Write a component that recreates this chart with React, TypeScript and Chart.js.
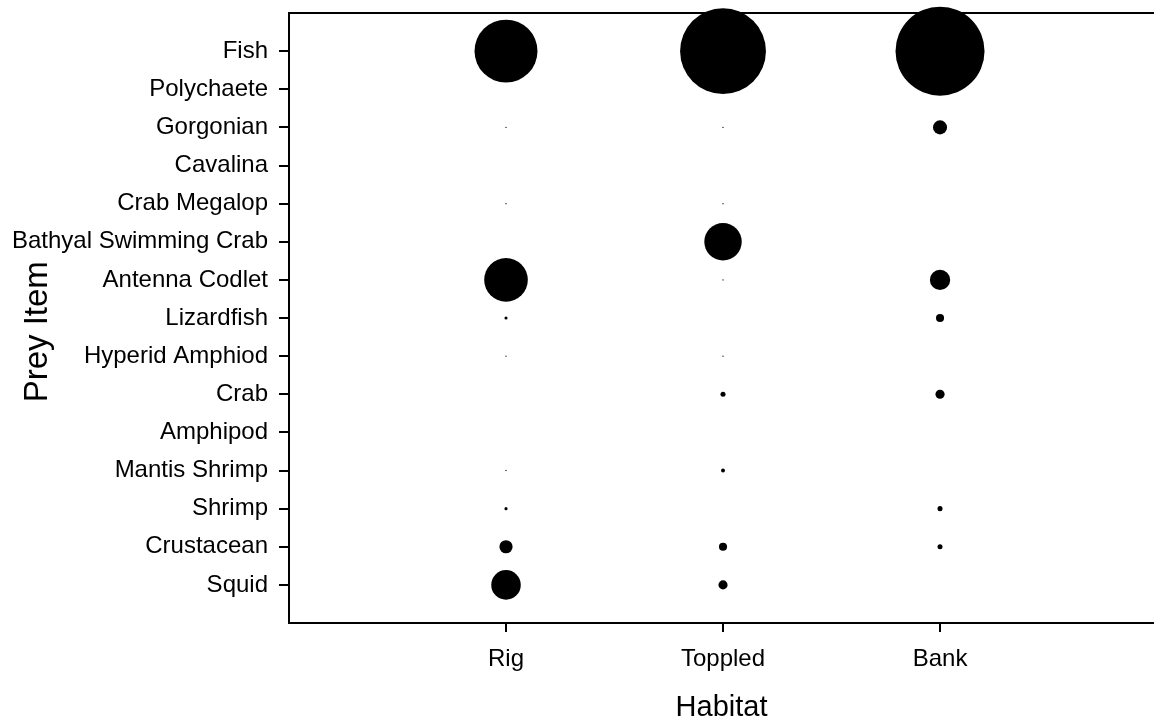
import React, { useEffect, useRef } from "react";
import { Chart, registerables, BubbleController } from "chart.js";

// Bubble controller that does not reserve extra layout padding for large bubbles
class FreeBubbleController extends (BubbleController as any) {
  getMaxOverflow() {
    return false;
  }
}
(FreeBubbleController as any).id = "freeBubble";
(FreeBubbleController as any).defaults = (BubbleController as any).defaults;
(FreeBubbleController as any).overrides = (BubbleController as any).overrides;

Chart.register(...registerables, FreeBubbleController as any);

// Prey items listed from top to bottom of the chart
const preyItems = [
  "Fish",
  "Polychaete",
  "Gorgonian",
  "Cavalina",
  "Crab Megalop",
  "Bathyal Swimming Crab",
  "Antenna Codlet",
  "Lizardfish",
  "Hyperid Amphiod",
  "Crab",
  "Amphipod",
  "Mantis Shrimp",
  "Shrimp",
  "Crustacean",
  "Squid",
];

const habitats = ["Rig", "Toppled", "Bank"];

// Relative importance values (bubble area), one per prey item, top to bottom
const rigValues = [50, 0, 0.02, 0, 0.02, 0, 24, 0.12, 0.02, 0, 0, 0.02, 0.12, 2.2, 11];
const toppledValues = [93, 0, 0.02, 0, 0.02, 17.7, 0.02, 0, 0.02, 0.32, 0, 0.2, 0, 0.83, 1.05];
const bankValues = [100, 0, 2.5, 0, 0, 0, 5.2, 0.83, 0, 1.05, 0, 0, 0.32, 0.32, 0];

const habitatValues = [rigValues, toppledValues, bankValues];

const RADIUS_SCALE = 4.45;

const topBorder = {
  id: "topBorder",
  afterDraw(chart: any) {
    const { ctx, chartArea } = chart;
    ctx.save();
    ctx.strokeStyle = "#000";
    ctx.lineWidth = 2;
    ctx.beginPath();
    ctx.moveTo(chartArea.left - 1, chartArea.top);
    ctx.lineTo(chartArea.right, chartArea.top);
    ctx.stroke();
    ctx.restore();
  },
};

export default function App() {
  const canvasRef = useRef<HTMLCanvasElement | null>(null);

  useEffect(() => {
    const canvas = canvasRef.current;
    if (!canvas) return;
    const n = preyItems.length;
    const points: any[] = [];
    habitatValues.forEach((vals, h) => {
      vals.forEach((v, i) => {
        if (v > 0) {
          points.push({ x: h + 1, y: n - i, r: RADIUS_SCALE * Math.sqrt(v) });
        }
      });
    });

    const family = "'Liberation Sans', Arial, sans-serif";
    const tickFont = { family, size: 24 };

    const chart = new Chart(canvas, {
      type: "freeBubble",
      data: {
        datasets: [
          {
            data: points,
            backgroundColor: "#000",
            borderColor: "#000",
            borderWidth: 0,
            clip: false,
          },
        ],
      },
      plugins: [topBorder],
      options: {
        responsive: false,
        animation: false,
        events: [],
        devicePixelRatio: 1,
        layout: { padding: { top: 13, left: 0, right: 0, bottom: 0 } },
        plugins: {
          legend: { display: false },
          tooltip: { enabled: false },
        },
        scales: {
          x: {
            type: "linear",
            position: "bottom",
            min: 0,
            max: 3.986,
            afterBuildTicks: (s: any) => {
              s.ticks = habitats.map((_, i) => ({ value: i + 1 }));
            },
            afterFit: (s: any) => {
              s.height = 102;
              s.paddingLeft = 0;
              s.paddingRight = 0;
            },
            ticks: {
              autoSkip: false,
              maxRotation: 0,
              color: "#000",
              font: tickFont,
              padding: 13,
              callback: (v: any) => habitats[Number(v) - 1] ?? "",
            },
            grid: {
              display: true,
              drawOnChartArea: false,
              drawTicks: true,
              tickLength: 9,
              color: "#000",
              lineWidth: 2,
            },
            border: { display: true, color: "#000", width: 2 },
            title: {
              display: true,
              text: "Habitat",
              color: "#000",
              font: { family, size: 29 },
              padding: { top: 0, bottom: 0 },
            },
          },
          y: {
            type: "linear",
            position: "left",
            min: 0,
            max: n + 1,
            afterBuildTicks: (s: any) => {
              s.ticks = preyItems.map((_, i) => ({ value: n - i }));
            },
            afterFit: (s: any) => {
              s.width = 289;
              s.paddingTop = 0;
              s.paddingBottom = 0;
            },
            ticks: {
              autoSkip: false,
              color: "#000",
              font: tickFont,
              padding: 11,
              callback: (v: any) => preyItems[n - Number(v)] ?? "",
            },
            grid: {
              display: true,
              drawOnChartArea: false,
              drawTicks: true,
              tickLength: 10,
              color: "#000",
              lineWidth: 2,
            },
            border: { display: true, color: "#000", width: 2 },
            title: {
              display: true,
              text: "Prey Item   ",
              color: "#000",
              font: { family, size: 33 },
              padding: { top: 18, bottom: 0 },
            },
          },
        },
      },
    } as any);

    return () => chart.destroy();
  }, []);

  return (
    <div style={{ position: "absolute", left: 0, top: 0, width: 1154, height: 725, background: "#fff" }}>
      <canvas ref={canvasRef} width={1154} height={725} style={{ width: 1154, height: 725, display: "block" }} />
    </div>
  );
}
